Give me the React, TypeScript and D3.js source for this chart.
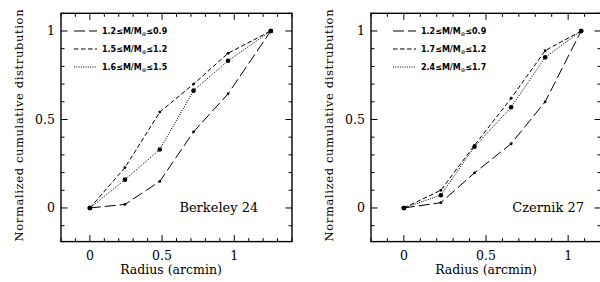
import React, { useRef, useEffect } from "react";
import * as d3 from "d3";

// Berkeley 24 cumulative distributions
const b24Radius = [0, 0.243, 0.484, 0.718, 0.957, 1.253];
const b24Low = [0, 0.02, 0.15, 0.43, 0.645, 1];
const b24Mid = [0, 0.228, 0.542, 0.7, 0.874, 1];
const b24High = [0, 0.16, 0.33, 0.663, 0.832, 1];
const b24Legend = [
  ["1.2≤M/M", "≤0.9"],
  ["1.5≤M/M", "≤1.2"],
  ["1.6≤M/M", "≤1.5"],
];

// Czernik 27 cumulative distributions
const cz27Radius = [0, 0.225, 0.43, 0.653, 0.86, 1.079];
const cz27Low = [0, 0.03, 0.198, 0.363, 0.6, 1];
const cz27Mid = [0, 0.1, 0.354, 0.62, 0.889, 1];
const cz27High = [0, 0.072, 0.346, 0.569, 0.851, 1];
const cz27Legend = [
  ["1.2≤M/M", "≤0.9"],
  ["1.7≤M/M", "≤1.2"],
  ["2.4≤M/M", "≤1.7"],
];

const xTicks = [0, 0.5, 1];
const yTicks = [0, 0.5, 1];
const yDomain = [-0.19, 1.1];

const styles = [
  { dash: "11,4", r: 1.4 },
  { dash: "4.5,2.5", r: 1.4 },
  { dash: "1,1.3", r: 2.3 },
];

const serif = "'DejaVu Serif', serif";

const drawPanel = (svg, opts) => {
  const { left, right, xDomain, radius, series, legend, name, nameX, labelX, legendX } = opts;
  const top = 13.3;
  const bottom = 241.6;

  const x = d3.scaleLinear().domain(xDomain).range([left, right]);
  const y = d3.scaleLinear().domain(yDomain).range([bottom, top]);

  const g = svg.append("g");

  // Ticks on all four sides
  const xMinor = d3.range(Math.ceil(xDomain[0] * 10), Math.floor(xDomain[1] * 10) + 1).map((d) => d / 10);
  const yMinor = d3.range(Math.ceil(yDomain[0] * 10), Math.floor(yDomain[1] * 10) + 1).map((d) => d / 10);
  const isMajor = (v) => Math.abs(v * 2 - Math.round(v * 2)) < 1e-6;

  xMinor.forEach((v) => {
    const len = isMajor(v) ? 6.5 : 3.5;
    g.append("line").attr("x1", x(v)).attr("x2", x(v)).attr("y1", bottom).attr("y2", bottom - len).attr("stroke", "#000");
    g.append("line").attr("x1", x(v)).attr("x2", x(v)).attr("y1", top).attr("y2", top + len).attr("stroke", "#000");
  });
  yMinor.forEach((v) => {
    const len = isMajor(v) ? 6.5 : 3.5;
    g.append("line").attr("y1", y(v)).attr("y2", y(v)).attr("x1", left).attr("x2", left + len).attr("stroke", "#000");
    g.append("line").attr("y1", y(v)).attr("y2", y(v)).attr("x1", right).attr("x2", right - len).attr("stroke", "#000");
  });

  // Frame
  g.append("rect")
    .attr("x", left)
    .attr("y", top)
    .attr("width", right - left)
    .attr("height", bottom - top)
    .attr("fill", "none")
    .attr("stroke", "#000")
    .attr("stroke-width", 1.4);

  // Tick labels
  xTicks.forEach((v) => {
    g.append("text")
      .attr("x", x(v))
      .attr("y", 260)
      .attr("text-anchor", "middle")
      .style("font-family", serif)
      .style("font-size", "12.5px")
      .text(`${v}`);
  });
  yTicks.forEach((v) => {
    g.append("text")
      .attr("x", left - 6)
      .attr("y", y(v) + 4.5)
      .attr("text-anchor", "end")
      .style("font-family", serif)
      .style("font-size", "12.5px")
      .text(`${v}`);
  });

  // Axis labels
  g.append("text")
    .attr("x", labelX)
    .attr("y", 274)
    .attr("text-anchor", "middle")
    .style("font-family", serif)
    .style("font-size", "12.5px")
    .text("Radius (arcmin)");

  g.append("text")
    .attr("transform", `translate(${left - 38}, ${(top + bottom) / 2 - 2}) rotate(-90)`)
    .attr("text-anchor", "middle")
    .attr("textLength", 232)
    .style("font-family", serif)
    .style("font-size", "11.5px")
    .text("Normalized cumulative distrubution");

  // Cluster name
  g.append("text")
    .attr("x", x(nameX))
    .attr("y", y(0) + 4.5)
    .style("font-family", serif)
    .style("font-size", "13px")
    .text(name);

  // Lines + markers
  const line = d3
    .line()
    .x((d, i) => x(radius[i]))
    .y((d) => y(d));

  series.forEach((vals, si) => {
    g.append("path")
      .datum(vals)
      .attr("d", line)
      .attr("fill", "none")
      .attr("stroke", "#000")
      .attr("stroke-width", 1)
      .attr("stroke-dasharray", styles[si].dash);

    g.selectAll(null)
      .data(vals)
      .enter()
      .append("circle")
      .attr("cx", (d, i) => x(radius[i]))
      .attr("cy", (d) => y(d))
      .attr("r", (d, i) => (i === 0 || i === vals.length - 1 ? 2.3 : styles[si].r))
      .attr("fill", "#000");
  });

  // Legend
  legend.forEach((lab, i) => {
    const ly = y(1) + i * 18;
    g.append("line")
      .attr("x1", legendX)
      .attr("x2", legendX + 23)
      .attr("y1", ly)
      .attr("y2", ly)
      .attr("stroke", "#000")
      .attr("stroke-dasharray", styles[i].dash);
    const t = g
      .append("text")
      .attr("x", legendX + 28)
      .attr("y", ly + 3)
      .style("font-family", "'DejaVu Sans', sans-serif")
      .style("font-size", "8px")
      .style("font-weight", "bold");
    t.append("tspan").text(lab[0]);
    t.append("tspan").attr("dy", 2).style("font-size", "5.5px").text("⊙");
    t.append("tspan").attr("dy", -2).text(lab[1]);
  });
};

const App = () => {
  const svgRef = useRef(null);

  useEffect(() => {
    const svg = d3.select(svgRef.current);
    svg.selectAll("*").remove();

    svg.append("rect").attr("width", 600).attr("height", 282).attr("fill", "#fff");

    drawPanel(svg, {
      left: 61,
      right: 292,
      xDomain: [-0.2, 1.4],
      radius: b24Radius,
      series: [b24Low, b24Mid, b24High],
      legend: b24Legend,
      name: "Berkeley 24",
      nameX: 0.62,
      labelX: 171,
      legendX: 74,
    });

    drawPanel(svg, {
      left: 371,
      right: 601,
      xDomain: [-0.2, 1.2],
      radius: cz27Radius,
      series: [cz27Low, cz27Mid, cz27High],
      legend: cz27Legend,
      name: "Czernik 27",
      nameX: 0.66,
      labelX: 486,
      legendX: 393,
    });
  }, []);

  return (
    <svg
      ref={svgRef}
      width={600}
      height={282}
      style={{ position: "absolute", left: 0, top: 0 }}
    />
  );
};

export default App;
